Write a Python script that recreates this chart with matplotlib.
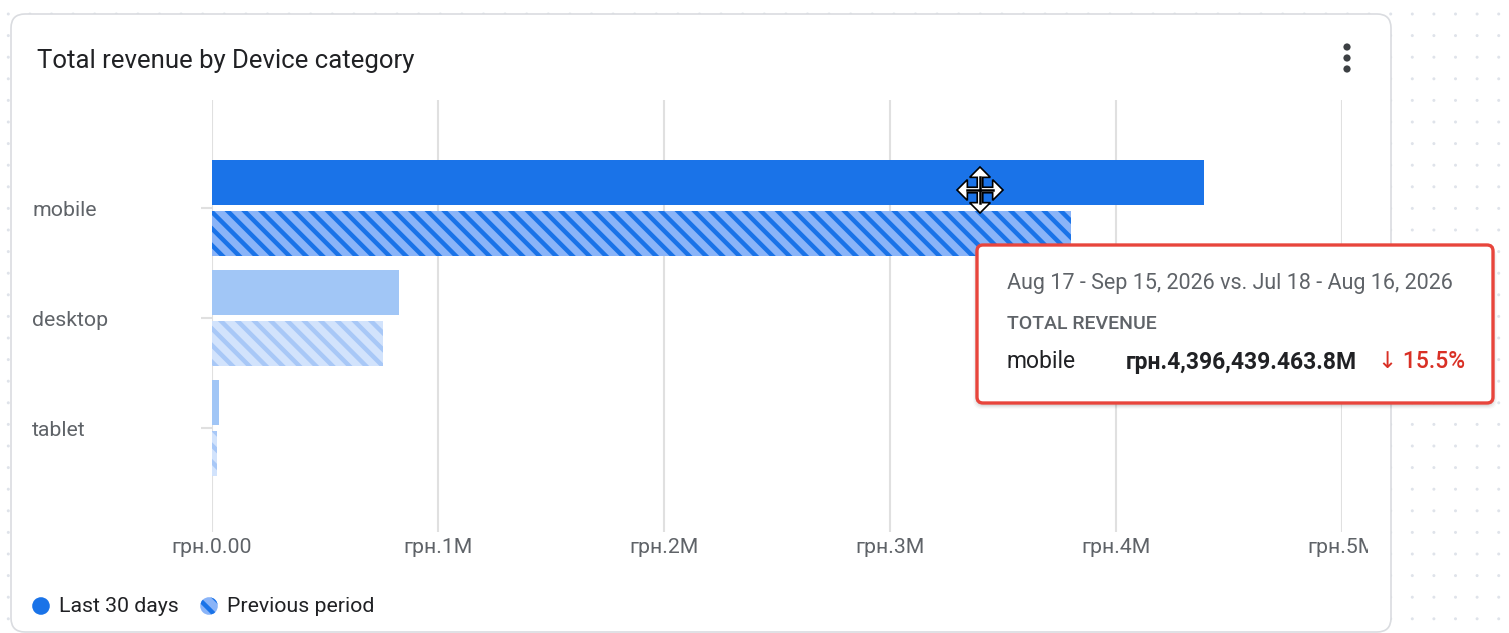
import numpy as np
import matplotlib
matplotlib.use("Agg")
from matplotlib import pyplot as plt
from matplotlib.patches import FancyBboxPatch, Circle, Polygon
from matplotlib.transforms import Affine2D, Bbox

plt.rcParams['font.family'] = ['Roboto', 'DejaVu Sans']
plt.rcParams['hatch.linewidth'] = 3.2

# data (revenue, UAH)
categories = ['mobile', 'desktop', 'tablet']
last_30_days = [4_390_000, 827_000, 31_000]
previous_period = [3_800_000, 757_000, 21_000]
x_ticks = [0, 1_000_000, 2_000_000, 3_000_000, 4_000_000, 5_000_000]
x_tick_labels = ['грн.0.00', 'грн.1M', 'грн.2M', 'грн.3M', 'грн.4M', 'грн.5M']

W, H = 1509, 633
fig = plt.figure(figsize=(W / 100, H / 100), dpi=100)
fig.patch.set_facecolor('white')
px = Affine2D().scale(1, -1).translate(0, H)  # pixel coords, origin top-left

# dotted page background
for yy in np.arange(14, H, 21.6):
    for xx in np.arange(8.3, W, 21.6):
        fig.patches.append(Circle((xx, yy), 1.5, transform=px, color='#dfe3ea', lw=0, zorder=0))

# card
card = FancyBboxPatch((11, 14), 1380, 618, boxstyle='round,pad=0,rounding_size=14',
                      transform=px, facecolor='white', edgecolor='#dadce0', lw=1.2, zorder=1)
fig.patches.append(card)

# menu dots
for yy in (47, 58, 69):
    fig.patches.append(Circle((1347, yy), 3.6, transform=px, color='#3c4043', lw=0, zorder=2))

fig.text(37 / W, 1 - 61 / H, 'Total revenue by Device category', fontsize=18.5,
         color='#202124', va='center', ha='left', zorder=3)

# axes: x 212..1342 px, y 100..532 px
ax = fig.add_axes([212 / W, 1 - 532 / H, (1342 - 212) / W, 432 / H], zorder=2)
ax.patch.set_alpha(0)

y = np.arange(len(categories))
h = 0.409
off = 0.232
cur_colors = ['#1a73e8', '#a1c6f6', '#a1c6f6']
prev_face = ['#8ab4f8', '#d2e3fc', '#d2e3fc']
prev_hatch = ['#1a73e8', '#a8c8f7', '#a8c8f7']

ax.barh(y - off, last_30_days, height=h, color=cur_colors, lw=0, zorder=3)
for i in range(len(categories)):
    ax.barh(y[i] + off, previous_period[i], height=h, facecolor=prev_face[i],
            edgecolor=prev_hatch[i], hatch='\\\\', lw=0, zorder=3)

ax.set_xlim(0, 5_000_000)
ax.set_ylim(2.945, -0.982)
ax.set_xticks(x_ticks)
ax.set_xticklabels(x_tick_labels)
ax.set_yticks(y)
ax.set_yticklabels(categories)
ax.grid(axis='x', color='#e0e0e0', lw=1.5, zorder=0)
for s in ax.spines.values():
    s.set_visible(False)
ax.tick_params(axis='x', length=0, pad=4, labelsize=15.3, labelcolor='#5f6368')
ax.tick_params(axis='y', length=8, width=1.5, color='#e0e0e0', pad=121.5,
               labelsize=15.3, labelcolor='#5f6368')
for lab in ax.get_yticklabels():
    lab.set_horizontalalignment('left')
clip = Bbox.from_extents(0, 0, 1368, H)
for lab in ax.get_xticklabels():
    lab.set_clip_box(clip)
    lab.set_clip_on(True)

# legend
fig.patches.append(Circle((41, 606), 8.8, transform=px, color='#1a73e8', lw=0, zorder=3))
fig.text(59 / W, 1 - 607 / H, 'Last 30 days', fontsize=15.3, color='#202124', va='center')
fig.patches.append(Circle((209, 606), 8.8, transform=px, facecolor='#8ab4f8',
                          edgecolor='#1a73e8', hatch='\\\\', lw=0, zorder=3))
fig.text(227 / W, 1 - 607 / H, 'Previous period', fontsize=15.3, color='#202124', va='center')

# move cursor
c = np.array([980, 190])
sz, w, hh, b = 23, 0.12, 0.45, 0.55
pts = [(0, 1), (hh, b), (w, b), (w, w), (b, w), (b, hh), (1, 0), (b, -hh), (b, -w), (w, -w),
       (w, -b), (hh, -b), (0, -1), (-hh, -b), (-w, -b), (-w, -w), (-b, -w), (-b, -hh), (-1, 0),
       (-b, hh), (-b, w), (-w, w), (-w, b), (-hh, b)]
pts = np.array(pts) * sz * np.array([1, -1]) + c
fig.patches.append(Polygon(pts, closed=True, transform=px, facecolor='white',
                           edgecolor='black', lw=1.2, zorder=10))
fig.lines.append(plt.Line2D([c[0], c[0]], [c[1] - 13, c[1] + 13], transform=px,
                            color='black', lw=1.8, zorder=11))
fig.lines.append(plt.Line2D([c[0] - 13, c[0] + 13], [c[1], c[1]], transform=px,
                            color='black', lw=1.8, zorder=11))

# tooltip
for k, a in enumerate([0.05, 0.04, 0.03, 0.02]):
    fig.patches.append(FancyBboxPatch((976 - k, 246 + k), 518 + 2 * k, 160, boxstyle='round,pad=0,rounding_size=8',
                                      transform=px, facecolor='black', alpha=a, lw=0, zorder=8))
fig.patches.append(FancyBboxPatch((977, 245), 516, 158, boxstyle='round,pad=0,rounding_size=6',
                                  transform=px, facecolor='white', edgecolor='#e8453c', lw=2.4, zorder=9))
fig.text(1007 / W, 1 - 284 / H, 'Aug 17 - Sep 15, 2026 vs. Jul 18 - Aug 16, 2026',
         fontsize=15.5, color='#5f6368', va='center', zorder=12)
fig.text(1007 / W, 1 - 324 / H, 'TOTAL REVENUE', fontsize=14, fontweight='medium',
         color='#5f6368', va='center', zorder=12)
fig.text(1007 / W, 1 - 362 / H, 'mobile', fontsize=16.5, color='#202124', va='center', zorder=12)
fig.text(1357 / W, 1 - 362 / H, 'грн.4,396,439.463.8M', fontsize=16.5, fontweight='bold',
         color='#202124', va='center', ha='right', zorder=12)
fig.text(1378 / W, 1 - 362 / H, '↓ 15.5%', fontsize=16.5, fontweight='medium',
         color='#d93025', va='center', zorder=12)

fig.savefig('out.png', dpi=100)
